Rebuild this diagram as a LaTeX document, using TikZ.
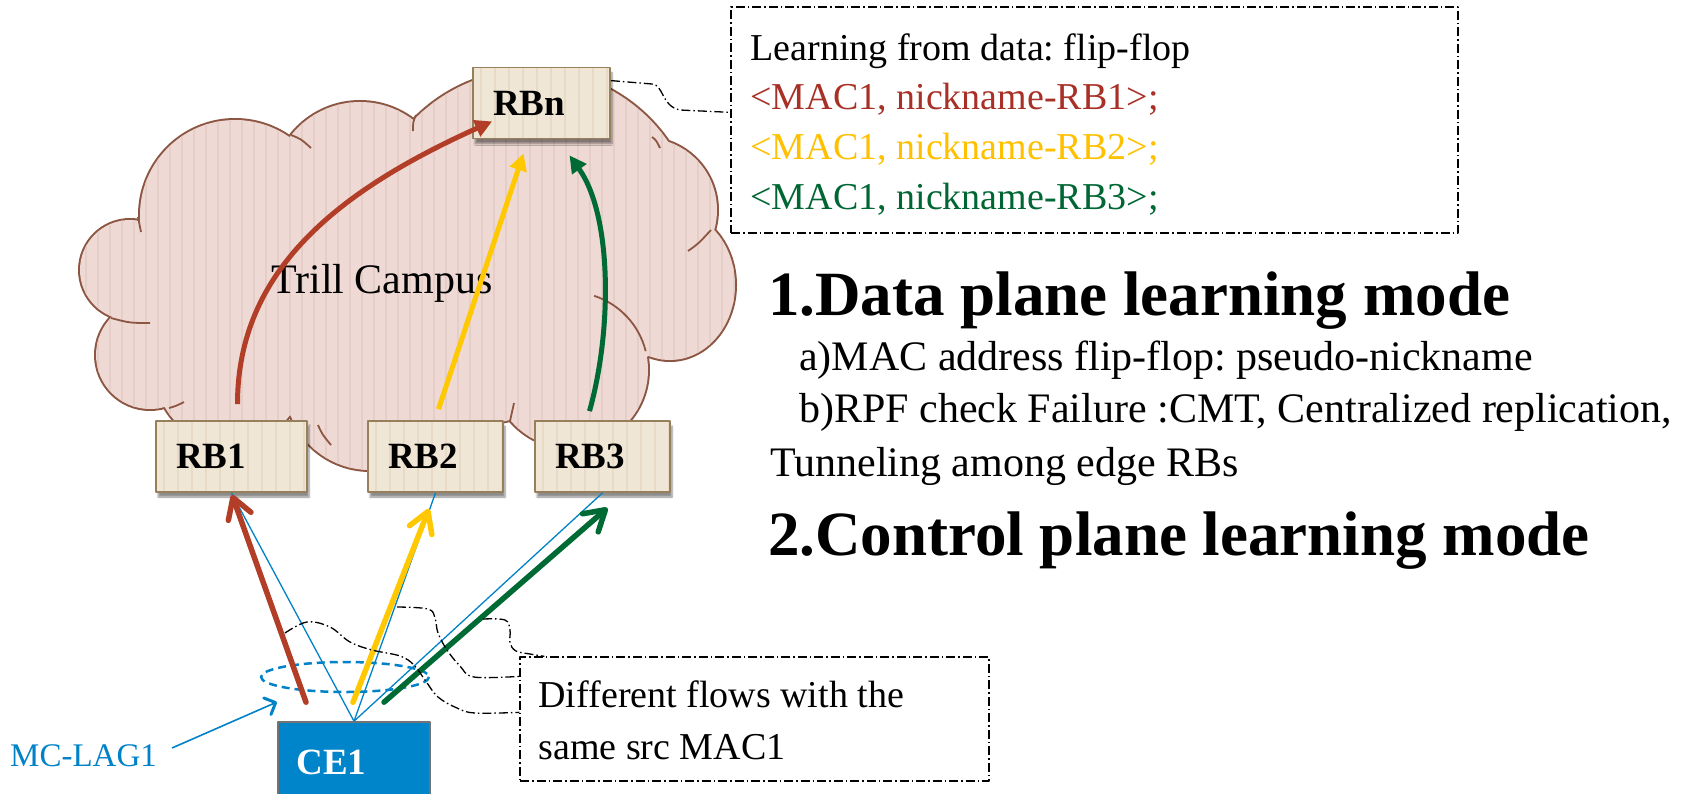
\documentclass[tikz,border=0pt]{standalone}
\usepackage{fontspec}
\setmainfont{Liberation Serif}
\usetikzlibrary{arrows.meta,shadows.blur,calc}
\frenchspacing

\definecolor{cloudfill}{RGB}{238,217,212}
\definecolor{cloudline}{RGB}{140,86,66}
\definecolor{cloudstripe}{RGB}{229,205,200}
\definecolor{boxfill}{RGB}{240,230,213}
\definecolor{boxline}{RGB}{150,128,92}
\definecolor{boxstripe}{RGB}{231,219,199}
\definecolor{flowred}{RGB}{178,62,40}
\definecolor{flowyellow}{RGB}{255,200,0}
\definecolor{flowgreen}{RGB}{0,106,52}
\definecolor{linkblue}{RGB}{0,130,200}
\definecolor{ceblue}{RGB}{0,132,202}
\definecolor{txtred}{RGB}{168,48,38}
\definecolor{txtyellow}{RGB}{255,192,0}
\definecolor{txtgreen}{RGB}{0,102,51}

\newcommand\setpt[1]{\fontsize{#1}{#1}\selectfont}

% the lobes whose union makes the campus cloud
\newcommand\cloudlumps{(130,270) circle[radius=50] (235,215) circle[radius=95]
  (360,190) circle[radius=88] (532,235) circle[radius=165] (645,210) circle[radius=72]
  (670,285) ellipse[x radius=65,y radius=75] (570,370) circle[radius=78]
  (370,385) circle[radius=85] (470,360) circle[radius=60] (230,370) circle[radius=75]
  (150,355) circle[radius=54] (420,280) ellipse[x radius=250,y radius=150]
  (190,300) circle[radius=50] (600,280) circle[radius=90]}

\tikzset{
  rbox/.style={draw=boxline, line width=1.8pt, fill=boxfill, minimum height=71pt,
    inner xsep=20pt, inner ysep=0pt, align=left, font=\setpt{37}\bfseries,
    blur shadow={shadow xshift=2pt, shadow yshift=-5pt, shadow opacity=45, shadow blur steps=6},
    path picture={\foreach \i in {1,...,12}{
      \draw[boxstripe, line width=2pt]
        ($(path picture bounding box.north west)+(\i*14-6,0)$) --
        ($(path picture bounding box.south west)+(\i*14-6,0)$);}}},
  cebox/.style={draw=black!55, line width=1.6pt, fill=ceblue, minimum width=152pt,
    minimum height=92pt, inner sep=0pt},
  notebox/.style={draw=black, line width=1.3pt, dash pattern=on 9pt off 3pt on 1.5pt off 3pt,
    inner sep=0pt},
  tail/.style={draw=black, line width=1.3pt, dash pattern=on 9pt off 3pt on 1.5pt off 3pt},
  notetext/.style={anchor=base west, inner sep=0pt, font=\setpt{38}},
  bodytext/.style={anchor=base west, inner sep=0pt, font=\setpt{42}},
  headtext/.style={anchor=base west, inner sep=0pt, font=\setpt{63}\bfseries},
  link/.style={linkblue, line width=1.3pt},
  lowflow/.style={line width=5.5pt, line cap=round, -{Straight Barb[length=20pt,width=24pt,round]}},
  upflow/.style={line width=5pt, -{Triangle[length=17pt,width=17pt]}},
}

\begin{document}
\begin{tikzpicture}[x=1pt, y=-1pt, line join=round]
\useasboundingbox (0,0) rectangle (1707,793);

% ---- Trill campus cloud ----
\draw[cloudline, line width=4pt] \cloudlumps;
\fill[cloudfill] \cloudlumps;
\begin{scope}
  \clip \cloudlumps;
  \foreach \x in {74,86,...,740} \draw[cloudstripe, line width=1.6pt] (\x,60) -- (\x,500);
\end{scope}
\begin{scope}[cloudline, line width=1.8pt]
  \draw (138,217) .. controls (139,225) .. (141,232);
  \draw (291,135) .. controls (301,139) .. (311,148);
  \draw (413,131) .. controls (413,122) .. (416,115);
  \draw (652,137) .. controls (656,140) .. (660,148);
  \draw (688,251) .. controls (698,244) .. (711,230);
  \draw (570,370) ++(-72:78) arc[start angle=-72, end angle=-14, radius=78];
  \draw (318,425) .. controls (322,434) .. (331,445);
  \draw (514,403) .. controls (512,412) .. (510,421);
  \draw (169,408) .. controls (176,406) .. (184,402);
  \draw (111,318) .. controls (130,323) .. (150,323);
\end{scope}
\node[anchor=base west, inner sep=0pt, font=\setpt{42}] (campus) at (271,293) {Trill Campus};

% ---- RBridges ----
\node[rbox, minimum width=137pt, text width=97pt] (rbn) at (541.5,103) {RBn};
\node[rbox, minimum width=151pt, text width=111pt] (rb1) at (231.5,456.5) {RB1};
\node[rbox, minimum width=135pt, text width=95pt] (rb2) at (435.5,456.5) {RB2};
\node[rbox, minimum width=135pt, text width=95pt] (rb3) at (602.5,456.5) {RB3};

% ---- customer edge and its links ----
\node[cebox] (ce1) at (354,768) {};
\draw[link] (ce1.north) -- (rb1.south);
\draw[link] (ce1.north) -- (rb2.south);
\draw[link] (ce1.north) -- (rb3.south);
\node[anchor=base west, inner sep=0pt, text=white, font=\setpt{37}\bfseries] (celabel)
  at ($(ce1.north west)+(19,53)$) {CE1};

% MC-LAG bundle
\coordinate (ring) at (345,677);
\draw[linkblue, line width=2.5pt, dash pattern=on 8pt off 5pt] (ring) ellipse[x radius=84, y radius=15];
\node[anchor=base west, inner sep=0pt, text=linkblue, font=\setpt{33}] (lag) at (10,766) {MC-LAG1};
\coordinate (lagfrom) at (172,748);
\coordinate (lagto) at (277,702);
\draw[linkblue, line width=1.6pt, -{Straight Barb[length=9pt,width=18pt,line width=3pt,round]}]
  (lagfrom) -- (lagto);

% ---- flows: CE1 up to the edge RBridges ----
\coordinate (s1) at ($(ce1.north)+(-48,-19)$);
\coordinate (s2) at ($(ce1.north)+(-1,-19)$);
\coordinate (s3) at ($(ce1.north)+(30,-19)$);
\coordinate (e2) at ($(rb2.south)+(-6.5,16)$);
\coordinate (e3) at ($(rb3.south)+(5,15)$);
\draw[lowflow, flowred] (s1) -- ($(rb1.south)+(0.5,2)$);
\draw[lowflow, flowyellow] (s2) -- (e2);
\draw[lowflow, flowgreen] (s3) -- (e3);

% ---- flows: edge RBridges across the campus to RBn ----
\coordinate (u1) at ($(rb1.north)+(6,-16)$);
\coordinate (u2) at ($(rb2.north)+(3,-11)$);
\coordinate (u3) at ($(rb3.north)+(-13,-9)$);
\coordinate (t1) at ($(rbn.south west)+(20,-18)$);
\coordinate (t2) at ($(rbn.south)+(-18,14)$);
\coordinate (t3) at ($(rbn.south)+(28,16)$);
\draw[upflow, flowred] (u1) .. controls ($(u1)+(0,-135)$) and (340,190) .. (t1);
\draw[upflow, flowyellow] (u2) -- (t2);
\draw[upflow, flowgreen] (u3) .. controls ($(u3)+(23,-82)$) and (612,215) .. (t3);

% ---- learning note at RBn ----
\node[notebox, minimum width=727pt, minimum height=226pt] (note1) at (1094.5,120) {};
\node[notetext] (n1a) at ($(note1.north west)+(20,54)$) {Learning from data: flip-flop};
\node[notetext, text=txtred] (n1b) at ($(note1.north west)+(20,103)$) {<MAC1, nickname-RB1>;};
\node[notetext, text=txtyellow] (n1c) at ($(note1.north west)+(20,153)$) {<MAC1, nickname-RB2>;};
\node[notetext, text=txtgreen] (n1d) at ($(note1.north west)+(20,203)$) {<MAC1, nickname-RB3>;};
\coordinate (ra) at ($(rbn.north east)+(0,14)$);
\coordinate (nb) at ($(note1.north west)+(0,106)$);
\draw[tail] (ra) -- (652,84) .. controls (664,85) and (661,106) .. (680,110) -- (nb);

% ---- flows note at the bundle ----
\node[notebox, minimum width=469pt, minimum height=124pt] (note2) at (754.5,719) {};
\node[notetext] (n2a) at ($(note2.north west)+(19,51)$) {Different flows with the};
\node[notetext] (n2b) at ($(note2.north west)+(19,103)$) {same src MAC1};
\coordinate (ta) at ($(note2.north west)+(0,56)$);
\coordinate (tb) at ($(note2.north west)+(0,20)$);
\coordinate (tc) at ($(note2.north west)+(25,0)$);
\draw[tail] plot[smooth, tension=0.6] coordinates {(285,633) (307,622) (330,627) (350,642)
  (372,650) (400,656) (414,665) (425,680) (438,697) (457,708) (475,713) (ta)};
\draw[tail] plot[smooth, tension=0.6] coordinates {(397,607) (428,609) (435,618) (438,633)
  (447,650) (460,666) (474,677) (tb)};
\draw[tail] plot[smooth, tension=0.6] coordinates {(483,619) (505,620) (510,630) (510,643)
  (516,651) (530,654) (tc)};

% ---- learning modes ----
\node[headtext] (mode1) at (768,315) {1.Data plane learning mode};
\node[bodytext] (mode1a) at (799,370) {a)MAC address flip-flop: pseudo-nickname};
\node[bodytext] (mode1b) at (799,422) {b)RPF check Failure :CMT, Centralized replication,};
\node[bodytext] (mode1c) at (770,476) {Tunneling among edge RBs};
\node[headtext] (mode2) at (768,555) {2.Control plane learning mode};
\end{tikzpicture}
\end{document}
